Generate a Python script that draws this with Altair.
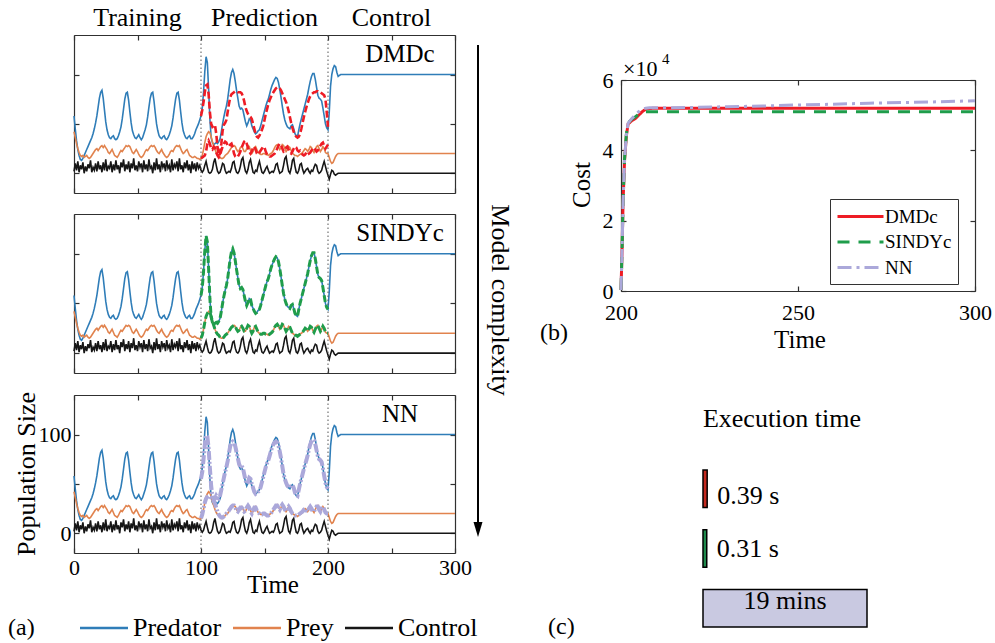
import altair as alt
import pandas as pd

W, H = 995, 643
FONT = "Liberation Serif"

BLUE = "#2F7DB8"
ORANGE = "#E1834E"
BLACK = "#161616"
RED = "#EE1C25"
GREEN = "#1F9D4B"
PURPLE = "#ABA8DA"

# ---------------- data ----------------
series_names = ["Predator", "Prey", "Control"]
t_true = list(range(0, 211)) + [300]

predator = [
    58, 45, 33, 24, 18, 14, 13, 15, 18, 21,
    24, 27, 30, 33, 36, 40, 45, 51, 58, 67,
    76, 82, 84, 76, 64, 52, 44, 39, 36, 35,
    37, 38, 35, 34, 35, 38, 42, 47, 55, 65,
    75, 81, 82, 74, 62, 51, 43, 39, 36, 35,
    37, 39, 36, 34, 36, 40, 44, 49, 57, 67,
    76, 81, 82, 73, 61, 50, 43, 38, 36, 35,
    37, 38, 35, 34, 36, 39, 43, 48, 56, 66,
    75, 81, 82, 74, 62, 51, 43, 39, 36, 35,
    37, 38, 35, 35, 37, 40, 44, 47, 50, 54,
    58, 66, 82, 103, 118, 112, 85, 55, 36, 31,
    29, 30, 31, 30, 32, 35, 42, 50, 57, 63,
    68, 75, 85, 95, 102, 105, 101, 93, 84, 76,
    68, 65, 66, 64, 58, 52, 48, 51, 55, 54,
    48, 45, 42, 40, 41, 43, 44, 48, 53, 58,
    63, 68, 72, 75, 80, 85, 89, 92, 95, 97,
    96, 92, 85, 77, 68, 60, 54, 50, 47, 46,
    45, 48, 49, 45, 40, 38, 37, 44, 50, 55,
    60, 65, 70, 75, 80, 87, 93, 98, 101, 101,
    95, 87, 79, 76, 75, 73, 66, 58, 50, 46,
    44, 62, 88, 100, 106, 109, 108, 102, 98, 99,
    100,
    100,
]

prey = [
    42, 36, 30, 25, 21, 18, 17, 18, 16, 17,
    18, 16, 15, 16, 18, 20, 22, 24, 25, 23,
    25, 27, 28, 26, 28, 26, 24, 21, 20, 22,
    24, 21, 18, 17, 16, 18, 21, 23, 22, 24,
    26, 28, 27, 28, 27, 24, 21, 20, 22, 24,
    22, 19, 17, 16, 17, 19, 22, 24, 23, 25,
    27, 28, 27, 28, 26, 23, 21, 20, 22, 24,
    21, 19, 17, 16, 17, 19, 22, 23, 22, 25,
    27, 28, 27, 28, 25, 22, 20, 21, 23, 24,
    21, 18, 17, 16, 16, 17, 16, 15, 15, 14,
    15, 18, 24, 31, 37, 40, 42, 41, 37, 32,
    28, 24, 21, 19, 18, 16, 15, 15, 16, 18,
    19, 20, 22, 24, 26, 27, 28, 27, 24, 22,
    23, 26, 27, 25, 22, 22, 25, 28, 27, 23,
    20, 22, 26, 27, 24, 21, 20, 19, 19, 20,
    20, 19, 19, 18, 19, 20, 21, 23, 26, 28,
    29, 27, 24, 26, 29, 28, 25, 22, 24, 27,
    26, 23, 20, 19, 18, 18, 17, 18, 19, 20,
    21, 23, 25, 24, 22, 24, 27, 26, 23, 21,
    24, 27, 28, 25, 22, 24, 27, 25, 21, 20,
    20, 16, 12, 10, 11, 14, 17, 19, 20, 20,
    20,
    20,
]

control = [
    2, 10, 3, 12, 1, 8, 4, 11, 0, 7,
    2, 9, 5, 13, 1, 6, 3, 10, 2, 12,
    4, 8, 1, 11, 3, 14, 2, 7, 5, 12,
    1, 9, 3, 13, 4, 8, 0, 11, 6, 14,
    2, 9, 4, 12, 1, 10, 5, 15, 3, 8,
    2, 12, 6, 10, 1, 13, 4, 9, 2, 14,
    5, 7, 0, 11, 3, 15, 4, 9, 1, 12,
    6, 10, 2, 13, 5, 8, 1, 14, 3, 9,
    6, 12, 2, 15, 4, 8, 1, 11, 5, 13,
    3, 9, 0, 12, 4, 10, 2, 11, 5, 8,
    3, 1, 3, 8, 12, 6, 1, 0, 1, 4,
    11, 15, 8, 2, 0, 1, 5, 10, 9, 3,
    0, 1, 2, 1, 5, 11, 12, 5, 1, 0,
    2, 7, 14, 16, 8, 2, 0, 4, 11, 14,
    7, 1, 0, 3, 2, 8, 12, 6, 1, 0,
    2, 5, 7, 3, 0, 1, 2, 1, 4, 9,
    10, 4, 0, 1, 2, 8, 15, 17, 9, 2,
    0, 5, 13, 15, 7, 1, 0, 3, 9, 10,
    4, 0, 2, 4, 5, 2, 0, 3, 2, 6,
    9, 8, 2, 0, 1, 3, 8, 12, 7, 2,
    -2, -6, -1, 3, 2, -1, -2, -1, 0, 0,
    0,
    0,
]

t_pred = list(range(100, 201))

dmdc_predator = [
    58, 64, 72, 82, 89, 90, 80, 62, 50, 47,
    48, 49, 40, 26, 18, 20, 30, 43, 49, 51,
    54, 62, 70, 77, 80, 81, 82, 83, 83, 82,
    82, 82, 81, 78, 73, 67, 63, 60, 58, 57,
    55, 50, 45, 40, 37, 36, 38, 41, 44, 48,
    54, 60, 65, 70, 74, 77, 80, 82, 84, 86,
    87, 87, 86, 84, 81, 78, 75, 72, 68, 63,
    57, 51, 46, 42, 39, 37, 36, 37, 40, 45,
    51, 57, 62, 67, 71, 75, 78, 80, 81, 82,
    82, 83, 83, 82, 82, 81, 80, 79, 75, 62,
    47,
]
dmdc_prey = [
    15, 16, 17, 18, 22, 30, 33, 30, 25, 24,
    27, 26, 21, 18, 16, 18, 23, 27, 30, 32,
    31, 28, 27, 29, 30, 26, 20, 17, 16, 17,
    19, 22, 26, 29, 32, 33, 30, 26, 22, 20,
    22, 26, 27, 24, 20, 19, 21, 23, 25, 27,
    26, 22, 19, 18, 17, 17, 18, 19, 20, 22,
    25, 28, 30, 29, 25, 22, 23, 26, 27, 24,
    21, 20, 22, 25, 27, 26, 23, 22, 23, 21,
    19, 18, 19, 21, 22, 20, 21, 23, 25, 26,
    24, 22, 23, 26, 28, 30, 31, 28, 25, 27,
    29,
]
# SINDYc prediction lies on top of the true trajectories
sindyc_predator = predator[100:201]
sindyc_prey = prey[100:201]

nn_predator = [
    55, 62, 75, 90, 99, 98, 86, 66, 48, 38,
    34, 35, 38, 36, 35, 38, 44, 50, 56, 62,
    67, 73, 81, 88, 92, 93, 92, 88, 82, 76,
    70, 67, 68, 66, 60, 54, 50, 52, 56, 55,
    50, 46, 42, 40, 41, 42, 43, 47, 52, 57,
    62, 67, 71, 74, 78, 83, 87, 90, 92, 93,
    92, 89, 83, 76, 68, 60, 55, 51, 48, 47,
    46, 48, 49, 46, 41, 39, 38, 44, 50, 55,
    60, 65, 70, 74, 79, 85, 90, 93, 95, 94,
    90, 84, 78, 75, 74, 72, 66, 58, 51, 47,
    45,
]
nn_prey = [
    15, 19, 25, 31, 35, 37, 38, 37, 36, 35,
    33, 30, 26, 22, 19, 17, 16, 16, 17, 18,
    20, 21, 23, 25, 27, 28, 28, 26, 23, 22,
    24, 26, 26, 24, 22, 23, 26, 28, 26, 22,
    20, 23, 26, 26, 23, 21, 20, 19, 19, 20,
    20, 19, 18, 18, 19, 20, 22, 24, 26, 28,
    28, 26, 24, 27, 29, 27, 24, 22, 25, 27,
    25, 22, 20, 19, 18, 18, 18, 19, 20, 21,
    22, 24, 25, 23, 22, 25, 27, 25, 22, 22,
    25, 27, 27, 24, 22, 25, 27, 24, 21, 20,
    20,
]

phase_bounds = [100, 200]
phase_names = ["Training", "Prediction", "Control"]
phase_mid = [50, 150, 250]

models = ["DMDc", "SINDYc", "NN"]
cost_t = [200, 200.3, 200.6, 201, 201.5, 202, 203, 204, 205, 206, 207, 208,
          210, 220, 230, 240, 250, 260, 270, 280, 290, 300]
cost_dmdc = [300, 11600, 25800, 37000, 44000, 47500, 48400, 49000, 50000, 51000, 51700, 51900,
             52000, 52000, 52000, 52000, 52000, 52000, 52000, 52000, 52000, 52000]
cost_sindyc = [300, 11800, 26000, 37500, 44500, 47800, 48800, 49500, 50300, 50900, 51000, 51000,
               51000, 51000, 51000, 51000, 51000, 51000, 51000, 51000, 51000, 51000]
cost_nn = [300, 11700, 25900, 37200, 44200, 47700, 49000, 50000, 51000, 51700, 52000, 52100,
           52100, 52200, 52400, 52600, 52900, 53100, 53400, 53600, 53800, 54100]

exec_seconds = [0.39, 0.31, 1140]
exec_labels = ["0.39 s", "0.31 s", "19 mins"]


# ---------------- tables ----------------
def long_df(t, cols, key="series", val="value"):
    return pd.concat([pd.DataFrame({"t": t, val: v, key: name}) for name, v in cols],
                     ignore_index=True)


true_df = long_df(t_true, [("Predator", predator), ("Prey", prey), ("Control", control)])
dmdc_df = long_df(t_pred, [("pred", dmdc_predator), ("prey", dmdc_prey)])
sindyc_df = long_df(t_pred, [("pred", sindyc_predator), ("prey", sindyc_prey)])
nn_df = long_df(t_pred, [("pred", nn_predator), ("prey", nn_prey)])
phase_df = pd.DataFrame({"t": phase_bounds})
phase_title_df = pd.DataFrame({"name": phase_names, "mid": phase_mid})
cost_df = long_df(cost_t, [("DMDc", cost_dmdc), ("SINDYc", cost_sindyc), ("NN", cost_nn)],
                  key="model", val="cost")
exec_df = pd.DataFrame({"model": models, "seconds": exec_seconds, "label": exec_labels})
one = pd.DataFrame({"k": [0]})

# ---------------- helpers ----------------
AX = dict(grid=False, title=None, domainColor="#303030", domainWidth=1.2,
          tickColor="#303030", tickWidth=1.2)


def frame_axes(top, bot, left, right, xvals, yvals):
    # opposite-orient axes placed on each edge so the ticks point inwards
    return dict(
        bottom=alt.Axis(orient="top", offset=-bot, values=xvals, labels=False, tickSize=5, **AX),
        top=alt.Axis(orient="bottom", offset=top - H, values=xvals, labels=False, tickSize=5, **AX),
        left=alt.Axis(orient="right", offset=left - W, values=yvals, labels=False, tickSize=5, **AX),
        right=alt.Axis(orient="left", offset=-right, values=yvals, labels=False, tickSize=5, **AX),
    )


def label_axis(orient, offset, values, pad, expr=None):
    kw = dict(orient=orient, offset=offset, values=values, ticks=False, tickSize=0, domain=False,
              grid=False, title=None, labelFont=FONT, labelFontSize=22, labelColor="black",
              labelPadding=pad, labelFlush=False)
    if expr:
        kw["labelExpr"] = expr
    return alt.Axis(**kw)


def text_mark(txt, x, y, size, align="center", baseline="alphabetic", angle=0):
    kw = dict(text=txt, align=align, baseline=baseline, fontSize=size, font=FONT, color="black")
    if angle:
        kw["angle"] = angle
    return alt.Chart(one).mark_text(**kw).encode(x=alt.value(x), y=alt.value(y))


XL, XR = 74, 455
PANELS = [(35, 193), (214, 373), (395, 553)]

layers = []

pred_specs = [
    (dmdc_df, RED, [7, 3], 2.6, "DMDc"),
    (sindyc_df, GREEN, [7, 3], 3.0, "SINDYc"),
    (nn_df, PURPLE, [9, 2, 2, 2], 4.0, "NN"),
]

for k, (top, bot) in enumerate(PANELS):
    pdf, pcol, pdash, pw, pname = pred_specs[k]
    xs = alt.Scale(domain=[0, 300], range=[XL, XR], nice=False, zero=False)
    ys = alt.Scale(domain=[-20, 140], range=[bot, top], nice=False, zero=False)
    fr = frame_axes(top, bot, XL, XR, [0, 50, 100, 150, 200, 250, 300], [0, 50, 100])
    if k == 2:
        # flat line symbol: 48 px long, layout size 20 px
        legend = alt.Legend(orient="none", legendX=77, legendY=615, direction="horizontal",
                            title=None, symbolType="M-1,0L3.8,0", symbolSize=400,
                            symbolStrokeWidth=2.6, labelFont=FONT, labelFontSize=26,
                            labelColor="black", labelOffset=30, columnPadding=5, padding=0,
                            labelLimit=0)
    else:
        legend = None
    lines = alt.Chart(true_df).mark_line(strokeWidth=1.6).encode(
        x=alt.X("t:Q", scale=xs, axis=fr["bottom"]),
        y=alt.Y("value:Q", scale=ys, axis=fr["left"]),
        color=alt.Color("series:N", sort=series_names,
                        scale=alt.Scale(domain=series_names, range=[BLUE, ORANGE, BLACK]),
                        legend=legend),
    )
    rules = alt.Chart(phase_df).mark_rule(color="#555555", strokeWidth=1,
                                          strokeDash=[1.5, 2.5]).encode(
        x=alt.X("t:Q", scale=xs, axis=fr["top"]),
        y=alt.YDatum(datum=-20, scale=ys, axis=fr["right"]),
        y2=alt.Y2Datum(datum=140),
    )
    if k == 2:
        xa = label_axis("bottom", bot - H, [0, 100, 200, 300], 4)
        ya = label_axis("left", -XL, [0, 100], 3)
    else:
        xa = None
        ya = None
    pred = alt.Chart(pdf).mark_line(color=pcol, strokeDash=pdash, strokeWidth=pw).encode(
        x=alt.X("t:Q", scale=xs, axis=xa),
        y=alt.Y("value:Q", scale=ys, axis=ya),
        detail="series:N",
    )
    layers += [lines, rules, pred, text_mark(pname, 400, top + 27, 25)]
    if k == 0:
        titles = alt.Chart(phase_title_df).mark_text(
            font=FONT, fontSize=26, baseline="alphabetic", color="black").encode(
            x=alt.X("mid:Q", scale=xs, axis=None),
            y=alt.value(26),
            text="name:N",
        )
        layers.append(titles)

# left-panel annotations
layers += [
    text_mark("Population Size", 27, 474, 26, baseline="middle", angle=270),
    text_mark("Time", 273, 593, 25),
    text_mark("(a)", 8, 628, 24, align="left", baseline="middle"),
    text_mark("Model complexity", 500, 300, 26, baseline="middle", angle=90),
]
arrow = alt.Chart(one).mark_rule(color="black", strokeWidth=2).encode(
    x=alt.value(478), y=alt.value(45), y2=alt.value(524))
head = alt.Chart(one).mark_point(shape="M-0.6,-1L0.6,-1L0,1Z", filled=True, size=225,
                                 color="black", opacity=1, strokeWidth=0).encode(
    x=alt.value(478), y=alt.value(529.5))
layers += [arrow, head]

# ---------------- cost panel (b) ----------------
cx = alt.Scale(domain=[200, 300], range=[621, 975], nice=False, zero=False)
cy = alt.Scale(domain=[0, 60000], range=[291, 80], nice=False)
cf = frame_axes(80, 291, 621, 975, [200, 250, 300], [0, 20000, 40000, 60000])
cost_legend = alt.Legend(orient="none", legendX=830, legendY=199, title=None,
                         symbolType="M-1,0L3.6,0", symbolSize=400, symbolStrokeWidth=3,
                         labelFont=FONT, labelFontSize=19, labelColor="black", labelOffset=26,
                         strokeColor="#333333", fillColor="white", padding=6, rowPadding=3.5,
                         direction="vertical", labelLimit=0)
cost_lines = alt.Chart(cost_df).mark_line(strokeWidth=3).encode(
    x=alt.X("t:Q", scale=cx, axis=cf["bottom"]),
    y=alt.Y("cost:Q", scale=cy, axis=cf["left"]),
    color=alt.Color("model:N", sort=models,
                    scale=alt.Scale(domain=models, range=[RED, GREEN, PURPLE]),
                    legend=cost_legend),
    strokeDash=alt.StrokeDash("model:N", sort=models,
                              scale=alt.Scale(domain=models,
                                              range=[[1, 0], [12, 9], [14, 5, 3, 5]]),
                              legend=cost_legend),
)
carrier1 = alt.Chart(cost_df).mark_point(opacity=0, size=0).encode(
    x=alt.X("t:Q", scale=cx, axis=cf["top"]),
    y=alt.Y("cost:Q", scale=cy, axis=cf["right"]),
)
carrier2 = alt.Chart(cost_df).mark_point(opacity=0, size=0).encode(
    x=alt.X("t:Q", scale=cx, axis=label_axis("bottom", 291 - H, [200, 250, 300], 11)),
    y=alt.Y("cost:Q", scale=cy,
            axis=label_axis("left", -621, [0, 20000, 40000, 60000], 8, "datum.value / 10000")),
)
layers += [cost_lines, carrier1, carrier2,
           text_mark("Cost", 582, 185, 25, baseline="middle", angle=270),
           text_mark("×10", 623, 76, 22, align="left"),
           text_mark("4", 662, 64, 15, align="left"),
           text_mark("Time", 800, 348, 25),
           text_mark("(b)", 540, 333, 24, align="left", baseline="middle")]

# ---------------- execution time (c) ----------------
bx = alt.Scale(type="pow", exponent=0.46, domain=[0, 1140], range=[703, 867], nice=False,
               zero=True)
by = alt.Scale(domain=models, range=[470, 627], paddingInner=0.37, paddingOuter=0)
bars = alt.Chart(exec_df).mark_bar(stroke="black", strokeWidth=1.5).encode(
    x=alt.X("seconds:Q", scale=bx, axis=None),
    y=alt.Y("model:N", scale=by, axis=None),
    color=alt.Color("model:N", scale=alt.Scale(domain=models,
                                               range=["#C42A20", "#1F8A4C", "#C9C9E1"]),
                    legend=None),
)
small_labels = alt.Chart(exec_df).transform_filter(alt.datum.seconds < 60).mark_text(
    align="left", baseline="middle", dx=10, font=FONT, fontSize=26, color="black").encode(
    x=alt.X("seconds:Q", scale=bx, axis=None),
    y=alt.Y("model:N", scale=by, axis=None),
    text="label:N",
)
big_label = alt.Chart(exec_df).transform_filter(alt.datum.seconds >= 60).mark_text(
    align="center", baseline="middle", font=FONT, fontSize=26, color="black").encode(
    x=alt.value(785),
    y=alt.Y("model:N", scale=by, axis=None),
    text="label:N",
)
layers += [bars, small_labels, big_label,
           text_mark("Execution time", 782, 427, 26),
           text_mark("(c)", 548, 627, 24, align="left", baseline="middle")]

chart = alt.layer(*layers).resolve_scale(
    x="independent", y="independent", color="independent", strokeDash="independent"
).properties(
    width=W, height=H, padding=0, autosize="none", background="white"
).configure_view(stroke=None)

chart.save("out.html", embed_options={"renderer": "svg", "actions": False})
